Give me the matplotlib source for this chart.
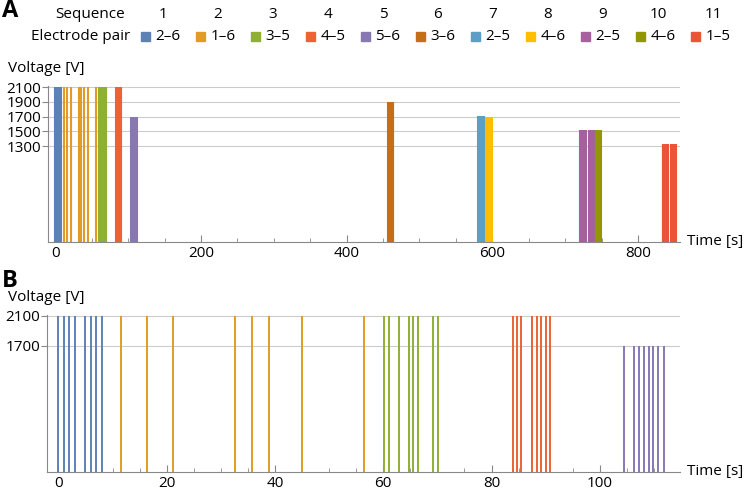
import matplotlib.pyplot as plt
from matplotlib.ticker import MultipleLocator

plt.rcParams['font.family'] = ['Open Sans', 'DejaVu Sans']

# header / legend
sequence = ['1', '2', '3', '4', '5', '6', '7', '8', '9', '10', '11']
pairs = ['2–6', '1–6', '3–5', '4–5', '5–6', '3–6', '2–5', '4–6', '2–5', '4–6', '1–5']
colors = ['#5E81B5', '#E19C24', '#8FB032', '#EB6235', '#8778B3', '#C56E1A',
          '#5D9EC7', '#FFBF00', '#A5609D', '#929600', '#E95536']
voltages = [2100, 2100, 2100, 2100, 1700, 1900, 1710, 1700, 1515, 1520, 1325]

# pulse times [s] for each sequence
pulse_times = [
    [0, 1, 2, 3, 5, 6, 7, 8],
    [11.6, 16.4, 21.2, 32.6, 35.7, 38.9, 45.0, 56.4],
    [60.1, 61.0, 62.9, 64.7, 65.5, 66.5, 69.2, 70.1],
    [84.0, 84.7, 85.5, 87.5, 88.3, 89.2, 90.1, 90.8],
    [104.5, 106.3, 107.2, 108.1, 109.1, 109.9, 110.8, 111.8],
    [457, 458, 459, 460, 461, 462, 463, 464],
    [581, 582, 583, 584, 585, 586, 587, 588],
    [592, 593, 594, 595, 596, 597, 598, 599],
    [721, 722, 723, 724, 725, 726, 727, 728, 733, 734, 735, 736, 737, 738, 739],
    [742, 743, 744, 745, 746, 747, 748, 749],
    [834, 835, 836, 837, 838, 839, 840, 841, 846, 847, 848, 849, 850, 851, 852],
]

W, H = 746, 490
fig = plt.figure(figsize=(W / 100, H / 100), dpi=100)


def px(x, y):
    return x / W, 1 - y / H


def style_axis(ax, yticks, major, minor):
    for s in ['top', 'right']:
        ax.spines[s].set_visible(False)
    for s in ['left', 'bottom']:
        ax.spines[s].set_color('#888888')
        ax.spines[s].set_linewidth(0.8)
    ax.set_yticks(yticks)
    ax.xaxis.set_major_locator(MultipleLocator(major))
    ax.xaxis.set_minor_locator(MultipleLocator(minor))
    ax.yaxis.grid(True, color='#cccccc', lw=0.8)
    ax.set_axisbelow(True)
    ax.tick_params(axis='x', which='both', direction='in', color='#888888', labelsize=11, pad=3)
    ax.tick_params(axis='x', which='major', length=5)
    ax.tick_params(axis='x', which='minor', length=3)
    ax.tick_params(axis='y', direction='out', length=4, color='#888888', labelsize=11, pad=1)


# panel A: whole experiment
axA = fig.add_axes([48 / W, 1 - 241.7 / H, 632 / W, 155.9 / H])
for i in range(len(sequence)):
    axA.vlines(pulse_times[i], 0, voltages[i], color=colors[i], lw=1.5)
axA.set_xlim(-10, 857.7)
axA.set_ylim(0, 2120)
style_axis(axA, [1300, 1500, 1700, 1900, 2100], 200, 50)

# panel B: first 115 s
axB = fig.add_axes([47.3 / W, 1 - 471.7 / H, 632.7 / W, 157.2 / H])
for i in range(5):
    axB.vlines(pulse_times[i], 0, voltages[i], color=colors[i], lw=1.4)
axB.set_xlim(-2.05, 114.8)
axB.set_ylim(0, 2120)
style_axis(axB, [1700, 2100], 20, 5)

# axis labels
fig.text(*px(8, 68), 'Voltage [V]', fontsize=11, va='center')
fig.text(*px(8, 297), 'Voltage [V]', fontsize=11, va='center')
fig.text(*px(687, 241), 'Time [s]', fontsize=11, va='center')
fig.text(*px(687, 471), 'Time [s]', fontsize=11, va='center')

fig.text(*px(2, 11), 'A', fontsize=17, fontweight='bold', va='center')
fig.text(*px(2, 281), 'B', fontsize=17, fontweight='bold', va='center')

# header legend
fig.text(*px(125, 15), 'Sequence', fontsize=11, va='center', ha='right')
fig.text(*px(130, 37), 'Electrode pair', fontsize=11, va='center', ha='right')
for i in range(len(sequence)):
    cx = 163 + 55 * i
    fig.text(*px(cx, 15), sequence[i], fontsize=11, va='center', ha='center')
    fig.text(*px(cx + 5, 37), pairs[i], fontsize=11, va='center', ha='center')
    fig.patches.append(plt.Rectangle(px(cx - 22, 41.5), 9 / W, 9 / H,
                                     transform=fig.transFigure, color=colors[i]))

fig.savefig('out.png', dpi=100)
